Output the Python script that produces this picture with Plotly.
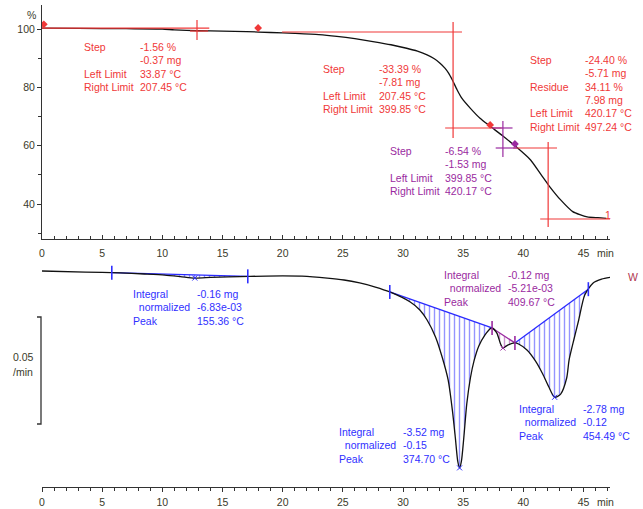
import plotly.graph_objects as go

# ---------------- data ----------------
# TGA curve (time in min, mass in %)
tga_time = [0, 3, 7, 10, 11, 13, 15, 17, 19, 21, 23, 24.5, 26, 27.5, 29, 30.3, 31.2, 32,
            32.6, 33.1, 33.5, 33.8, 34.1, 34.5, 34.9, 35.6, 36.4, 37.2, 38.3, 39.4, 40.6,
            41.5, 42.2, 43.1, 44.1, 45.3, 46.2, 46.9]
tga_mass = [100.3, 100.2, 100.1, 100.0, 99.7, 99.4, 99.3, 99.1, 98.8, 98.5, 98.1, 97.5,
            96.7, 95.7, 94.6, 93.4, 92.4, 91.1, 89.8, 88.2, 86.5, 84.8, 82.5, 79.1, 76.2,
            72.8, 69.4, 66.8, 63.3, 59.6, 55.1, 49.9, 45.9, 41.4, 37.4, 35.6, 35.3, 35.1]

# DTG curve (time in min, rate in 1/min)
dtg_time = [0, 3.6, 6.5, 8.5, 10.2, 11.5, 12.7, 14.0, 15.5, 17.3, 20.0, 21.6, 23.7, 25.1,
            26.4, 27.7, 28.9, 30.6, 31.4, 32.0, 32.7, 33.25, 33.75, 34.1, 34.35, 34.55,
            34.7, 34.85, 35.05, 35.3, 35.6, 35.9, 36.3, 36.8, 37.2, 37.4, 37.8, 38.1, 38.3,
            38.7, 39.3, 39.6, 40.3, 41.0, 41.6, 42.1, 42.6, 43.1, 43.6, 43.8, 44.2, 44.6,
            45.1, 45.8, 46.5, 47.2]
dtg_rate = [0.0, -0.0005, -0.0009, -0.0014, -0.0019, -0.0026, -0.0033, -0.0030, -0.0027,
            -0.0025, -0.0023, -0.0024, -0.0033, -0.0042, -0.0056, -0.0075, -0.0098, -0.0145,
            -0.0182, -0.0229, -0.0308, -0.0402, -0.0509, -0.0650, -0.0780, -0.0890, -0.0920,
            -0.0890, -0.0780, -0.0620, -0.0500, -0.0420, -0.0350, -0.0300, -0.0272, -0.0266,
            -0.0290, -0.0340, -0.0360, -0.0346, -0.0336, -0.0341, -0.0369, -0.0420, -0.0480,
            -0.0540, -0.0590, -0.0575, -0.0500, -0.0416, -0.0320, -0.0229, -0.0112, -0.0056,
            -0.0038, -0.0030]

# axis ticks
x_ticks = [0, 5, 10, 15, 20, 25, 30, 35, 40, 45]
x_tick_labels = ["0", "5", "10", "15", "20", "25", "30", "35", "40", "45"]
y_ticks = [40, 60, 80, 100]
y_tick_labels = ["40", "60", "80", "100"]
y_minor_ticks = [30, 50, 70, 90]

# step construction lines (red), t0, t1, y0, y1
red_t0 = [0.0, 12.3, 12.88, 19.95, 34.16, 33.5, 39.15, 42.06, 41.4]
red_t1 = [13.9, 13.8, 12.88, 34.9, 34.16, 38.2, 42.8, 42.06, 47.2]
red_y0 = [100.3, 99.31, 103.1, 98.97, 102.4, 66.06, 59.2, 61.3, 34.86]
red_y1 = [100.3, 99.31, 96.2, 98.97, 62.6, 66.06, 59.2, 32.1, 34.86]
# purple step construction lines
pur_t0 = [38.3, 37.4, 37.7]
pur_t1 = [38.3, 39.1, 39.5]
pur_y0 = [68.5, 66.06, 59.2]
pur_y1 = [56.1, 66.06, 59.2]
# evaluation points
red_pt_time = [0.15, 17.96, 37.24]
red_pt_mass = [101.6, 100.34, 67.1]
pur_pt_time = [39.3]
pur_pt_mass = [60.6]

# DTG integration regions
int_start = [5.8, 28.9, 37.4, 39.3]
int_end = [17.1, 37.4, 39.3, 45.4]
int_base_start = [-0.0008, -0.0098, -0.0266, -0.0336]
int_base_end = [-0.0025, -0.0266, -0.0336, -0.0085]
int_color = ["#2a2aff", "#2a2aff", "#9a2aa0", "#2a2aff"]
peak_time = [12.7, 34.7, 38.3, 42.6]
peak_rate = [-0.0033, -0.0920, -0.0360, -0.0590]
peak_color = ["#2a2aff", "#2a2aff", "#9a2aa0", "#2a2aff"]

RED = "#f03838"
PUR = "#9a2aa0"
BLUE = "#3030ff"
AX = "#333333"
TXT = "#3a3a2a"
FONT = "Liberation Sans"
FS = 10.5

fig = go.Figure()

# ---------- top: TGA ----------
def segs(t0, t1, y0, y1):
    xs, ys = [], []
    for a, b, c, d in zip(t0, t1, y0, y1):
        xs += [a, b, None]
        ys += [c, d, None]
    return xs, ys

fig.add_trace(go.Scatter(x=tga_time, y=tga_mass, mode="lines",
                         line=dict(color="#111111", width=1.3, shape="spline", smoothing=0.6),
                         xaxis="x", yaxis="y", hoverinfo="skip"))
rx, ry = segs(red_t0, red_t1, red_y0, red_y1)
fig.add_trace(go.Scatter(x=rx, y=ry, mode="lines", line=dict(color=RED, width=1.2),
                         xaxis="x", yaxis="y", hoverinfo="skip"))
pxs, pys = segs(pur_t0, pur_t1, pur_y0, pur_y1)
fig.add_trace(go.Scatter(x=pxs, y=pys, mode="lines", line=dict(color=PUR, width=1.2),
                         xaxis="x", yaxis="y", hoverinfo="skip"))
fig.add_trace(go.Scatter(x=red_pt_time, y=red_pt_mass, mode="markers",
                         marker=dict(symbol="diamond", size=6, color=RED),
                         xaxis="x", yaxis="y", hoverinfo="skip"))
fig.add_trace(go.Scatter(x=pur_pt_time, y=pur_pt_mass, mode="markers",
                         marker=dict(symbol="diamond", size=6, color=PUR),
                         xaxis="x", yaxis="y", hoverinfo="skip"))

# ---------- bottom: DTG ----------
for s, e, bs, be, col in zip(int_start, int_end, int_base_start, int_base_end, int_color):
    fig.add_trace(go.Scatter(x=[s, e], y=[bs, be], mode="lines",
                             line=dict(color=col, width=1.3),
                             xaxis="x2", yaxis="y2", hoverinfo="skip"))
    seg_t = [s] + [t for t in dtg_time if s < t < e] + [e]
    seg_r = [bs] + [r for t, r in zip(dtg_time, dtg_rate) if s < t < e] + [be]
    fig.add_trace(go.Scatter(x=seg_t, y=seg_r, mode="lines", line=dict(width=0),
                             fill="tonexty", fillcolor="rgba(0,0,0,0)",
                             fillpattern=dict(shape="|", fgcolor=col, bgcolor="rgba(0,0,0,0)",
                                              size=5, solidity=0.28, fillmode="overlay"),
                             xaxis="x2", yaxis="y2", hoverinfo="skip"))

fig.add_trace(go.Scatter(x=dtg_time, y=dtg_rate, mode="lines",
                         line=dict(color="#111111", width=1.3, shape="spline", smoothing=0.7),
                         xaxis="x2", yaxis="y2", hoverinfo="skip"))

lim_t = [int_start[0], int_end[0], int_start[1], int_start[2], int_start[3], int_end[3]]
lim_r = [int_base_start[0], int_base_end[0], int_base_start[1], int_base_start[2],
         int_base_start[3], int_base_end[3]]
lim_c = [BLUE, BLUE, BLUE, PUR, PUR, BLUE]
fig.add_trace(go.Scatter(x=lim_t, y=lim_r, mode="markers",
                         marker=dict(symbol="line-ns-open", size=10, color=lim_c,
                                     line=dict(color=lim_c, width=1.6)),
                         xaxis="x2", yaxis="y2", hoverinfo="skip"))
fig.add_trace(go.Scatter(x=peak_time, y=peak_rate, mode="markers",
                         marker=dict(symbol="x-thin-open", size=5, color=peak_color,
                                     line=dict(color=peak_color, width=1)),
                         xaxis="x2", yaxis="y2", hoverinfo="skip"))

# ---------- annotations ----------
def P(px, py):
    return dict(x=(px - 42) / 568, y=(487 - py) / 482, xref="paper", yref="paper")

ann = []

def block(lx, vx, py0, labels, values, color, dy=13.3):
    for i, (lab, val) in enumerate(zip(labels, values)):
        py = py0 + i * dy
        if lab:
            ann.append(dict(**P(lx, py), text=lab, showarrow=False, xanchor="left",
                            yanchor="middle", font=dict(color=color, size=FS, family=FONT)))
        if val:
            ann.append(dict(**P(vx, py), text=val, showarrow=False, xanchor="left",
                            yanchor="middle", font=dict(color=color, size=FS, family=FONT)))

block(82, 138, 47, ["Step", "", "Left Limit", "Right Limit"],
      ["-1.56 %", "-0.37 mg", "33.87 °C", "207.45 °C"], RED)
block(321, 377, 69, ["Step", "", "Left Limit", "Right Limit"],
      ["-33.39 %", "-7.81 mg", "207.45 °C", "399.85 °C"], RED)
block(528, 583, 60, ["Step", "", "Residue", "", "Left Limit", "Right Limit"],
      ["-24.40 %", "-5.71 mg", "34.11 %", "7.98 mg", "420.17 °C", "497.24 °C"], RED)
block(388, 443, 151, ["Step", "", "Left Limit", "Right Limit"],
      ["-6.54 %", "-1.53 mg", "399.85 °C", "420.17 °C"], PUR)
block(131, 195, 294, ["Integral", "\u00a0\u00a0normalized", "Peak"],
      ["-0.16 mg", "-6.83e-03", "155.36 °C"], BLUE)
block(442, 506, 275, ["Integral", "\u00a0\u00a0normalized", "Peak"],
      ["-0.12 mg", "-5.21e-03", "409.67 °C"], PUR)
block(337, 401, 432, ["Integral", "\u00a0\u00a0normalized", "Peak"],
      ["-3.52 mg", "-0.15", "374.70 °C"], BLUE)
block(517, 581, 409, ["Integral", "\u00a0\u00a0normalized", "Peak"],
      ["-2.78 mg", "-0.12", "454.49 °C"], BLUE)

def label(px, py, text, color, anchor="left", size=FS):
    ann.append(dict(**P(px, py), text=text, showarrow=False, xanchor=anchor,
                    yanchor="middle", font=dict(color=color, size=size, family=FONT)))

label(31, 15, "%", TXT, "center")
label(595, 253, "min", TXT)
label(595, 502, "min", TXT)
label(23, 357, "0.05", TXT, "center")
label(23, 372, "/min", TXT, "center")
label(608, 215, "1", RED, "center")
label(626, 277, "W", "#b03850")

# scale bar for DTG
shapes = [dict(type="path", xref="paper", yref="paper",
               path="M {a},{b} L {c},{b} L {c},{d} L {a},{d}".format(
                   a=(37 - 42) / 568, c=(41 - 42) / 568,
                   b=(487 - 317) / 482, d=(487 - 424) / 482),
               line=dict(color=AX, width=1.3))]

axis_common = dict(showgrid=False, zeroline=False, showline=True, linecolor=AX,
                   linewidth=1, tickcolor=AX, automargin=False,
                   tickfont=dict(size=FS, color=TXT, family=FONT))

fig.update_layout(
    width=643, height=509,
    margin=dict(l=42, r=33, t=5, b=22, autoexpand=False),
    paper_bgcolor="white", plot_bgcolor="white",
    showlegend=False,
    annotations=ann,
    shapes=shapes,
    xaxis=dict(domain=[0, 1], anchor="y", range=[0, 47.2], tickvals=x_ticks,
               ticktext=x_tick_labels, ticks="inside", ticklen=4, ticklabelstandoff=4,
               minor=dict(dtick=1, tick0=0, ticks="inside", ticklen=3, tickcolor=AX),
               **axis_common),
    yaxis=dict(domain=[(487 - 239) / 482, 1], anchor="x", range=[28.0, 108.23],
               tickvals=y_ticks, ticktext=y_tick_labels, ticks="outside", ticklen=4,
               minor=dict(tickvals=y_minor_ticks, ticks="outside", ticklen=3, tickcolor=AX),
               **axis_common),
    xaxis2=dict(domain=[0, 1], anchor="y2", range=[0, 47.2], tickvals=x_ticks,
                ticktext=x_tick_labels, ticks="outside", ticklen=4, ticklabelstandoff=1,
                minor=dict(dtick=1, tick0=0, ticks="outside", ticklen=3, tickcolor=AX),
                **axis_common),
    yaxis2=dict(domain=[0, (487 - 258) / 482], anchor="x2", range=[-0.10093, 0.006075],
                visible=False),
)

fig.write_html("out.html", config={"displayModeBar": False},
               post_script="document.body.style.margin='0';document.body.style.overflow='hidden';")
